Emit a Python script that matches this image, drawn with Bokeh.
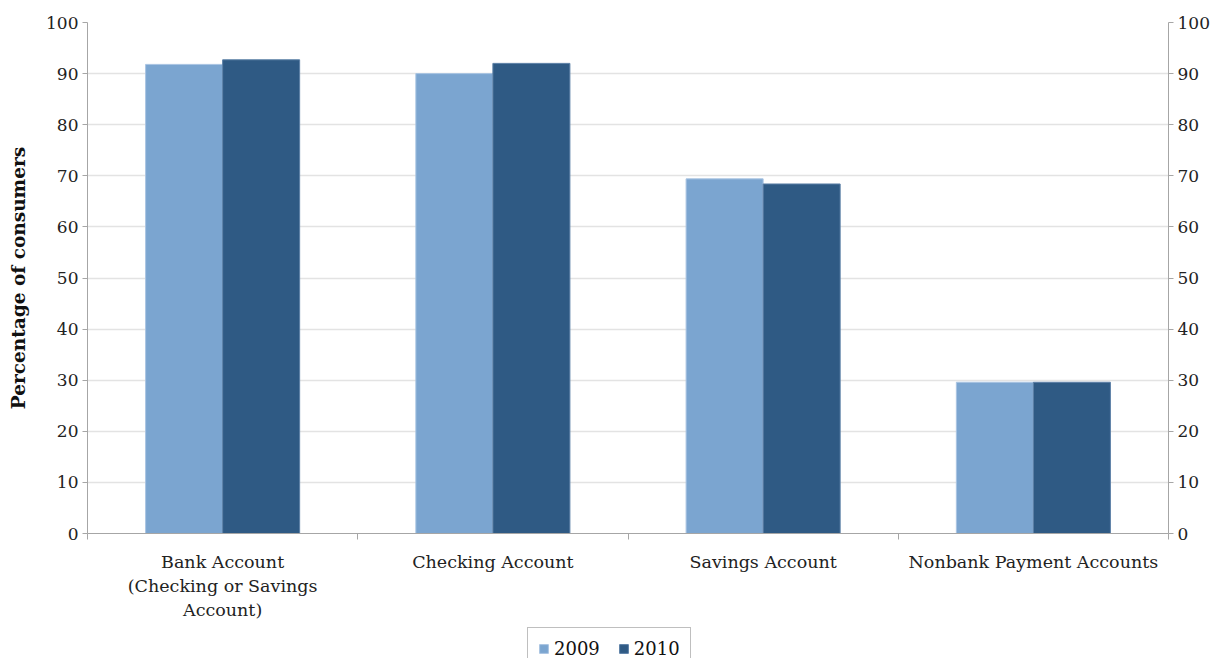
from bokeh.plotting import figure
from bokeh.layouts import column
from bokeh.models import (Range1d, LinearAxis, FixedTicker, Legend, LegendItem, ColumnDataSource)
from bokeh.embed import file_html
from bokeh.resources import INLINE

categories = ["Bank Account\n(Checking or Savings\nAccount)", "Checking Account",
              "Savings Account", "Nonbank Payment Accounts"]
years = ["2009", "2010"]
values_2009 = [91.8, 90.0, 69.4, 29.6]
values_2010 = [92.7, 92.0, 68.4, 29.6]
y_ticks = [0, 10, 20, 30, 40, 50, 60, 70, 80, 90, 100]

FONT = "DejaVu Serif"
C09 = "#7BA5D0"
C10 = "#2F5A84"
L09 = "#A9C4E2"
L10 = "#5B7FA6"

W = 1224
H1 = 626
H2 = 32
p = figure(width=W, height=H1, output_backend="svg", toolbar_location=None,
           x_range=Range1d(0, len(categories)), y_range=Range1d(0, 100),
           min_border_left=87, min_border_right=56, min_border_top=22, min_border_bottom=H1 - 533,
           x_axis_location=None, y_axis_location=None)
p.outline_line_color = None
p.background_fill_color = "white"
p.border_fill_color = "white"

bw = 0.285
centers = [i + 0.5 for i in range(len(categories))]
src09 = ColumnDataSource(dict(x=[c - bw / 2 for c in centers], top=values_2009))
src10 = ColumnDataSource(dict(x=[c + bw / 2 for c in centers], top=values_2010))
p.vbar(x="x", top="top", bottom=0, width=bw, source=src09, fill_color=C09,
       line_color=L09, line_width=1)
p.vbar(x="x", top="top", bottom=0, width=bw, source=src10, fill_color=C10,
       line_color=L10, line_width=1)

# y axes
for side in ("left", "right"):
    ax = LinearAxis(ticker=FixedTicker(ticks=y_ticks, minor_ticks=[]))
    ax.axis_line_color = "#A6A6A6"
    ax.major_tick_line_color = "#A6A6A6"
    ax.major_tick_out = 5
    ax.major_tick_in = 0
    ax.major_label_text_font = FONT
    ax.major_label_text_font_size = "17px"
    ax.major_label_text_color = "#222222"
    ax.major_label_standoff = 4
    if side == "left":
        ax.axis_label = "Percentage of consumers"
        ax.axis_label_text_font = FONT
        ax.axis_label_text_font_style = "bold"
        ax.axis_label_text_font_size = "18.5px"
        ax.axis_label_text_color = "#111111"
        ax.axis_label_standoff = 14
    p.add_layout(ax, side)

# x axis
xax = LinearAxis(ticker=FixedTicker(ticks=centers, minor_ticks=list(range(len(categories) + 1))))
xax.axis_line_color = "#A6A6A6"
xax.major_tick_line_color = None
xax.minor_tick_line_color = "#A6A6A6"
xax.minor_tick_out = 6
xax.minor_tick_in = 0
xax.major_label_overrides = {c: lab for c, lab in zip(centers, categories)}
xax.major_label_text_font = FONT
xax.major_label_text_font_size = "17.5px"
xax.major_label_text_color = "#222222"
xax.major_label_standoff = 12
p.add_layout(xax, "below")

p.xgrid.visible = False
p.ygrid.ticker = FixedTicker(ticks=y_ticks)
p.ygrid.grid_line_color = "#E3E3E3"
p.ygrid.grid_line_width = 1.5

# legend strip (renderers drawn off-range, only their legend swatches show)
p2 = figure(width=W, height=H2, output_backend="svg", toolbar_location=None,
            x_range=Range1d(0, len(categories)), y_range=Range1d(1000, 1001),
            min_border=0, x_axis_location=None, y_axis_location=None)
p2.outline_line_color = None
p2.xgrid.visible = False
p2.ygrid.visible = False
g09 = p2.vbar(x="x", top="top", bottom=0, width=bw, source=src09, fill_color=C09, line_color=L09)
g10 = p2.vbar(x="x", top="top", bottom=0, width=bw, source=src10, fill_color=C10, line_color=L10)

legend = Legend(items=[LegendItem(label=years[0], renderers=[g09]),
                       LegendItem(label=years[1], renderers=[g10])],
                orientation="horizontal", location=(440, -12))
legend.label_text_font = FONT
legend.label_text_font_size = "18px"
legend.label_text_color = "#111111"
legend.glyph_width = 11
legend.glyph_height = 11
legend.border_line_color = "#808080"
legend.border_line_width = 1
legend.padding = 10
legend.spacing = 18
legend.label_standoff = 5
legend.margin = 0
p2.add_layout(legend, "center")

open("out.html", "w").write(file_html(column(p, p2), INLINE))
